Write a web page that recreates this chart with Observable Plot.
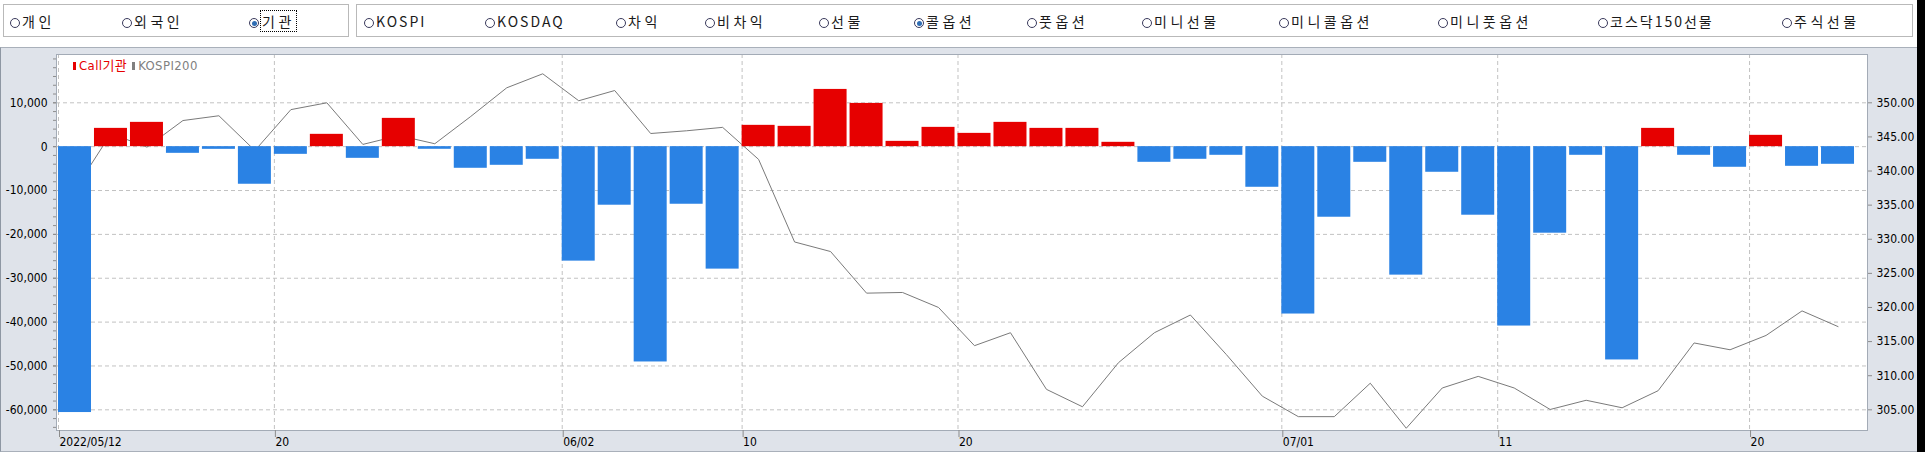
<!DOCTYPE html>
<html>
<head>
<meta charset="utf-8">
<script src="https://cdn.jsdelivr.net/npm/d3@7"></script>
<script src="https://cdn.jsdelivr.net/npm/@observablehq/plot@0.6"></script>
<style>
html,body{margin:0;padding:0;background:#fff;width:1925px;height:452px;overflow:hidden;position:relative;font-family:"Noto Sans CJK KR","Noto Sans",sans-serif;}
.box{position:absolute;top:4px;height:33px;border:1px solid #b9b9b9;box-sizing:border-box;}
.radio{position:absolute;top:12px;height:19px;font-size:14px;line-height:19px;letter-spacing:2px;color:#1a1a1a;white-space:nowrap;}
.radio.ko{letter-spacing:3.5px;}
.radio .c{display:inline-block;position:relative;width:10px;height:10px;border:1px solid #3a3a5c;border-radius:50%;margin-right:2px;vertical-align:-1px;box-sizing:border-box;background:#fff;}
.radio .c.on::after{content:"";position:absolute;left:1.5px;top:1.5px;width:5px;height:5px;border-radius:50%;background:#2f6db3;}
.radio .f{outline:1px dotted #000;outline-offset:0px;padding:0 1px;}
#panel{position:absolute;left:0;top:47px;width:1917px;height:405px;background:#dfe3ea;border-top:1px solid #a9b0ba;border-left:1px solid #8e97a3;border-bottom:1px solid #a9b0ba;box-sizing:border-box;}
#chart{position:absolute;left:0;top:47px;}
#chart svg text{font-family:"DejaVu Sans Condensed","DejaVu Sans",sans-serif;font-stretch:condensed;}
#strip{position:absolute;left:1917px;top:0;width:8px;height:452px;background:#000;}
.legend{position:absolute;top:58px;left:73px;font-family:"DejaVu Sans Condensed","DejaVu Sans","Noto Sans CJK KR",sans-serif;font-stretch:condensed;font-size:13px;line-height:15px;letter-spacing:0.4px;white-space:nowrap;}
.legend .sw{display:inline-block;width:3px;height:8px;margin-right:3px;vertical-align:0px;}
</style>
</head>
<body>
<div id="panel"></div>
<div id="chart"></div>
<div id="strip"></div>
<script>
// ---------------- data ----------------
const dates = [
  "2022-05-12","2022-05-13","2022-05-16","2022-05-17","2022-05-18","2022-05-19","2022-05-20",
  "2022-05-23","2022-05-24","2022-05-25","2022-05-26","2022-05-27","2022-05-30","2022-05-31",
  "2022-06-02","2022-06-03","2022-06-07","2022-06-08","2022-06-09","2022-06-10",
  "2022-06-13","2022-06-14","2022-06-15","2022-06-16","2022-06-17",
  "2022-06-20","2022-06-21","2022-06-22","2022-06-23","2022-06-24",
  "2022-06-27","2022-06-28","2022-06-29","2022-06-30","2022-07-01",
  "2022-07-04","2022-07-05","2022-07-06","2022-07-07","2022-07-08",
  "2022-07-11","2022-07-12","2022-07-13","2022-07-14","2022-07-15",
  "2022-07-18","2022-07-19","2022-07-20","2022-07-21","2022-07-22"
];
// Call option net buying by institutions (기관)
const callInst = [
  -60620, 4170, 5540, -1520, -610, -8570, -1750, 2810, -2660, 6450,
  -600, -4930, -4250, -2880, -26100, -13350, -49090, -13130, -27920, 4860,
  4630, 13050, 9860, 1210, 4400, 3030, 5540, 4170, 4170, 990,
  -3570, -2880, -1970, -9260, -38160, -16090, -3570, -29290, -5840, -15630,
  -40900, -19730, -1970, -48630, 4170, -1970, -4700, 2580, -4480, -4020
];
// KOSPI200 index (right axis)
const kospi200 = [
  337.3, 345.5, 343.5, 347.4, 348.1, 343.0, 349.0, 350.0, 343.9, 345.2,
  344.0, 348.0, 352.2, 354.25, 350.3, 351.8, 345.5, 345.9, 346.4, 341.7,
  329.6, 328.2, 322.1, 322.2, 320.0, 314.4, 316.3, 308.0, 305.45, 311.9,
  316.3, 318.9, 313.1, 307.0, 304.0, 304.0, 308.9, 302.3, 308.2, 309.9,
  308.2, 305.05, 306.4, 305.3, 307.8, 314.8, 313.8, 315.9, 319.5, 317.2
];
const leftTicks = [-60000, -50000, -40000, -30000, -20000, -10000, 0, 10000];
const rightTicks = [305, 310, 315, 320, 325, 330, 335, 340, 345, 350];
const xTickDates = ["2022-05-12","2022-05-20","2022-06-02","2022-06-10","2022-06-20","2022-07-01","2022-07-11","2022-07-20"];
const xTickLabels = ["2022/05/12","20","06/02","10","20","07/01","11","20"];
const investorOptions = ["개인","외국인","기관"];
const productOptions = ["KOSPI","KOSDAQ","차익","비차익","선물","콜옵션","풋옵션","미니선물","미니콜옵션","미니풋옵션","코스닥150선물","주식선물"];
const selectedInvestor = "기관";
const selectedProduct = "콜옵션";
const legendLabels = ["Call기관","KOSPI200"];

// ---------------- top option bar (layout) ----------------
const investorX = [10, 122, 249];
const productX = [364, 485, 616, 705, 819, 914, 1027, 1142, 1279, 1438, 1598, 1782];
function addBox(l, w){const b=document.createElement("div");b.className="box";b.style.left=l+"px";b.style.width=w+"px";document.body.appendChild(b);}
addBox(3, 346); addBox(356, 1557);
function addRadio(label, x, on){
  const r=document.createElement("div");r.className="radio"+(/^[\uAC00-\uD7A3]+$/.test(label)?" ko":"");r.style.left=x+"px";
  const c=document.createElement("span");c.className="c"+(on?" on":"");r.appendChild(c);
  const t=document.createElement("span");t.textContent=label;if(on&&label===selectedInvestor)t.className="f";r.appendChild(t);
  document.body.appendChild(r);
}
investorOptions.forEach((l,i)=>addRadio(l, investorX[i], l===selectedInvestor));
productOptions.forEach((l,i)=>addRadio(l, productX[i], l===selectedProduct));

// ---------------- chart ----------------
const toLeft = k => -60000 + (k - 305) / 45 * 70000;
const fromLeft = v => 305 + (v + 60000) / 70000 * 45;
const BAR = 33 / 35.98;
const rows = dates.map((d, i) => ({i, date: d, call: callInst[i], k: toLeft(kospi200[i]), sign: callInst[i] >= 0 ? "pos" : "neg"}));
const xTickIdx = xTickDates.map(d => dates.indexOf(d));
const minorTicks = d3.range(-64000, 20001, 2000);

const chart = Plot.plot({
  width: 1917, height: 405,
  marginLeft: 56, marginRight: 50, marginTop: 7, marginBottom: 22,
  style: {background: "transparent", fontSize: "12px", color: "#000", overflow: "visible"},
  x: {type: "linear", domain: [-0.0556, 50.278], axis: null, label: null},
  y: {domain: [-64715, 21012], axis: null, label: null},
  color: {domain: ["pos", "neg"], range: ["#e60000", "#2a82e4"]},
  marks: [
    Plot.frame({fill: "#ffffff", stroke: null}),
    Plot.gridY(leftTicks, {stroke: "#c2c2c2", strokeOpacity: 1, strokeDasharray: "4,3"}),
    Plot.gridX(xTickIdx, {stroke: "#c2c2c2", strokeOpacity: 1, strokeDasharray: "4,3"}),
    Plot.line(rows, {x: d => d.i + BAR / 2, y: "k", stroke: "#7a7a7a", strokeWidth: 1}),
    Plot.rectY(rows, {x1: "i", x2: d => d.i + BAR, y1: 0, y2: "call", fill: "sign", inset: 0}),
    Plot.frame({stroke: "#a3abb6", strokeWidth: 1}),
    Plot.axisY(minorTicks, {anchor: "left", label: null, tickSize: 3, stroke: "#8c8c8c", tickFormat: () => ""}),
    Plot.axisY(leftTicks, {anchor: "left", label: null, tickSize: 3, tickPadding: 6, stroke: "#8c8c8c", tickFormat: v => v.toLocaleString("en-US")}),
    Plot.axisY(rightTicks.map(toLeft), {anchor: "right", label: null, tickSize: 4, tickPadding: 5, stroke: "#8c8c8c", tickFormat: v => fromLeft(v).toFixed(2)}),
    Plot.axisX(xTickIdx, {anchor: "bottom", label: null, tickSize: 7, tickPadding: 0, stroke: "#8c8c8c", textAnchor: "start", dx: 1, tickFormat: v => xTickLabels[xTickIdx.indexOf(v)]})
  ]
});
document.getElementById("chart").appendChild(chart);

// legend
const lg = document.createElement("div"); lg.className = "legend";
const legendColors = ["#e60000", "#808080"];
legendLabels.forEach((l, i) => {
  const s = document.createElement("span"); s.className = "sw"; s.style.background = legendColors[i];
  const t = document.createElement("span"); t.textContent = l; t.style.color = legendColors[i]; t.style.marginRight = "5px";
  lg.appendChild(s); lg.appendChild(t);
});
document.body.appendChild(lg);
</script>
</body>
</html>
